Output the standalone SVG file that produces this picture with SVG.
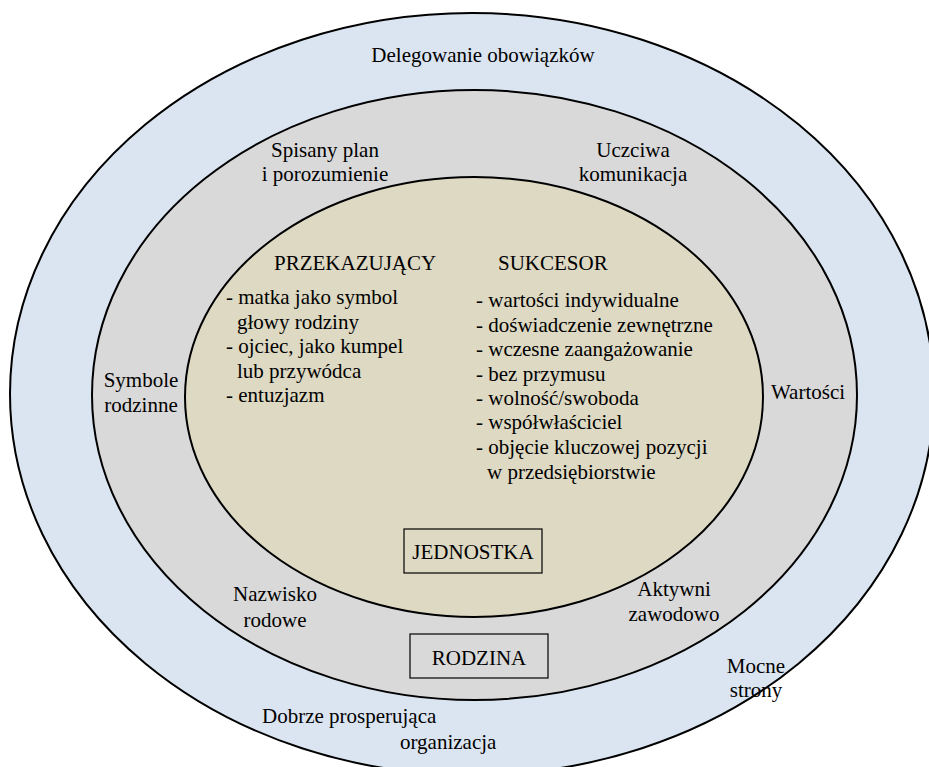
<svg xmlns="http://www.w3.org/2000/svg" width="929" height="767" viewBox="0 0 929 767">
<style>
text{font-family:"Liberation Serif","Times New Roman",serif;font-size:21px;fill:#000}
.c{text-anchor:middle}
.ring{stroke:#000;stroke-width:2}
.box{fill:none;stroke:#000;stroke-width:1.2}
</style>
<rect width="929" height="767" fill="#fff"/>
<g id="outer">
<ellipse class="ring" cx="472" cy="394" rx="462" ry="381" fill="#dbe5f1"/>
<text class="c" x="483" y="62">Delegowanie obowiązków</text>
<text x="262" y="723">Dobrze prosperująca</text>
<text x="400" y="749">organizacja</text>
<text class="c" x="756" y="673">Mocne</text>
<text class="c" x="756" y="697">strony</text>
</g>
<g id="middle">
<ellipse class="ring" cx="474.5" cy="395" rx="382.5" ry="305" fill="#d9d9d9"/>
<text class="c" x="325" y="157">Spisany plan</text>
<text class="c" x="325" y="181">i porozumienie</text>
<text class="c" x="633" y="157">Uczciwa</text>
<text class="c" x="633" y="181">komunikacja</text>
<text class="c" x="141" y="387">Symbole</text>
<text class="c" x="141" y="412">rodzinne</text>
<text class="c" x="808" y="399">Wartości</text>
<text class="c" x="275" y="601">Nazwisko</text>
<text class="c" x="275" y="627">rodowe</text>
<text class="c" x="674" y="596">Aktywni</text>
<text class="c" x="674" y="621">zawodowo</text>
</g>
<g id="rodzina">
<rect class="box" x="410" y="634" width="138" height="44"/>
<text class="c" x="479" y="665">RODZINA</text>
</g>
<g id="inner">
<ellipse class="ring" cx="474" cy="397" rx="289" ry="220" fill="#ddd9c3"/>
<text x="274" y="270">PRZEKAZUJĄCY</text>
<text x="498" y="270">SUKCESOR</text>
<text x="226" y="304">- matka jako symbol</text>
<text x="237" y="329">głowy rodziny</text>
<text x="226" y="353">- ojciec, jako kumpel</text>
<text x="237" y="378">lub przywódca</text>
<text x="226" y="402">- entuzjazm</text>
<text x="476" y="307">- wartości indywidualne</text>
<text x="476" y="332">- doświadczenie zewnętrzne</text>
<text x="476" y="356">- wczesne zaangażowanie</text>
<text x="476" y="381">- bez przymusu</text>
<text x="476" y="405">- wolność/swoboda</text>
<text x="476" y="429">- współwłaściciel</text>
<text x="476" y="454">- objęcie kluczowej pozycji</text>
<text x="487" y="479">w przedsiębiorstwie</text>
</g>
<g id="jednostka">
<rect class="box" x="404" y="529" width="138" height="44"/>
<text class="c" x="473" y="559">JEDNOSTKA</text>
</g>
</svg>
